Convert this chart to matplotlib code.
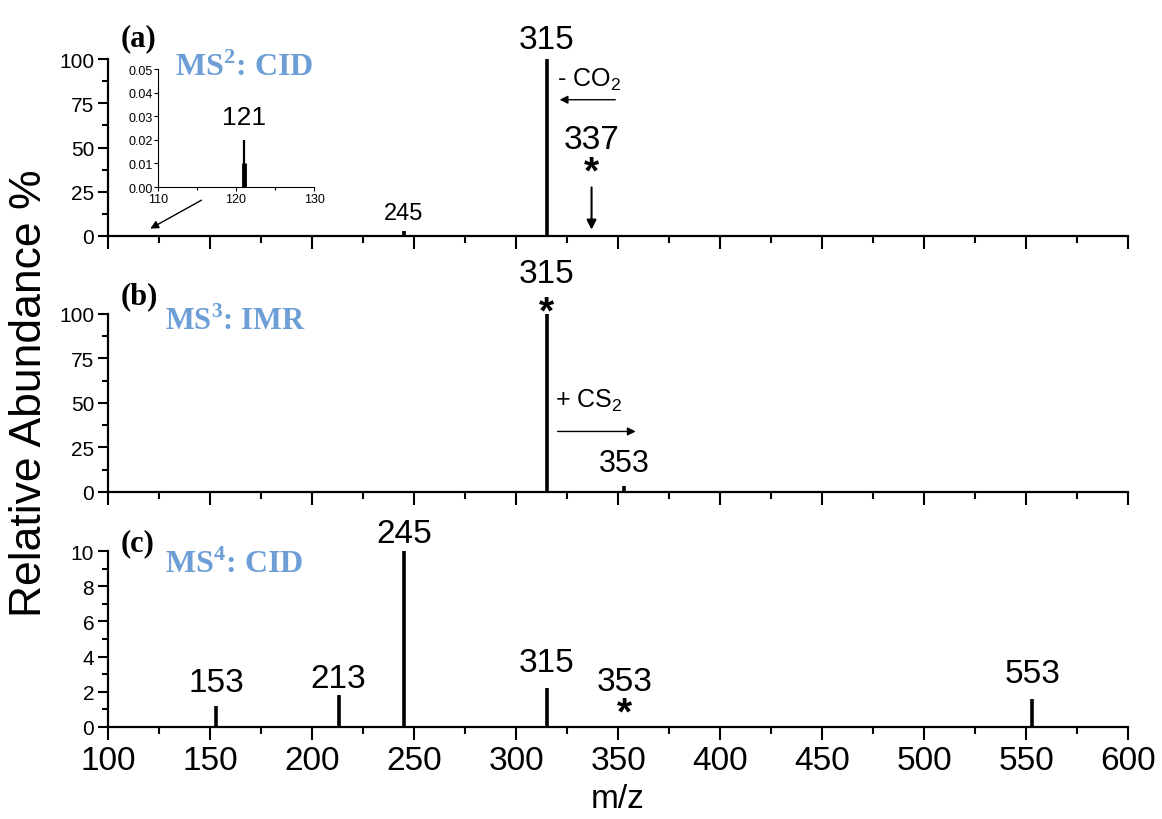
import numpy as np
import matplotlib.pyplot as plt
from matplotlib.ticker import MultipleLocator

plt.rcParams['font.family'] = ['Liberation Sans', 'DejaVu Sans']
plt.rcParams['mathtext.fontset'] = 'custom'
plt.rcParams['mathtext.rm'] = 'Liberation Sans'
plt.rcParams['mathtext.it'] = 'Liberation Sans:italic'
plt.rcParams['mathtext.bf'] = 'Liberation Serif:bold'

# datos de los espectros (m/z, abundancia relativa %)
mz_a = [121, 245, 315]
int_a = [0.02, 3.0, 100.0]
mz_b = [315, 353]
int_b = [100.0, 3.5]
mz_c = [153, 213, 245, 315, 553]
int_c = [1.2, 1.8, 10.0, 2.2, 1.6]
off_c = [0.85, 0.5, 0.5, 1.0, 0.95]  # separacion etiqueta-pico

# inset: pico 121 ampliado
mz_in = [121, 121]
int_in = [0.02, 0.01]
w_in = [1.6, 3.5]

blue = '#6d9fd6'
serif = ['Liberation Serif', 'DejaVu Serif']

fig = plt.figure(figsize=(11.62, 8.2), dpi=100)
L, W = 0.093, 0.8778
ax_a = fig.add_axes([L, 0.7110, W, 0.2158])
ax_b = fig.add_axes([L, 0.3988, W, 0.2171])
ax_c = fig.add_axes([L, 0.1122, W, 0.2146])


def estilo(ax, ymax, ymaj, ymin, xlabels):
    ax.set_xlim(100, 600)
    ax.set_ylim(0, ymax)
    for s in ['top', 'right']:
        ax.spines[s].set_visible(False)
    for s in ['left', 'bottom']:
        ax.spines[s].set_linewidth(1.6)
    ax.xaxis.set_major_locator(MultipleLocator(50))
    ax.xaxis.set_minor_locator(MultipleLocator(25))
    ax.yaxis.set_major_locator(MultipleLocator(ymaj))
    ax.yaxis.set_minor_locator(MultipleLocator(ymin))
    ax.tick_params(axis='x', which='major', direction='out', length=9, width=1.5,
                   labelsize=24, labelbottom=xlabels, pad=4)
    ax.tick_params(axis='x', which='minor', direction='out', length=5, width=1.5)
    ax.tick_params(axis='y', which='major', direction='out', length=7, width=1.5,
                   labelsize=15, pad=3)
    ax.tick_params(axis='y', which='minor', direction='out', length=4, width=1.5)


estilo(ax_a, 100, 25, 12.5, False)
estilo(ax_b, 100, 25, 12.5, False)
estilo(ax_c, 10, 2, 1, True)

# (a) MS2: CID
ax_a.vlines(mz_a, 0, int_a, colors='black', lw=2.6)
ax_a.text(315, 106, '315', ha='center', va='baseline', fontsize=24)
ax_a.text(245, 9.6, '245', ha='center', va='baseline', fontsize=17)
ax_a.text(320, 89, '- CO$_2$', ha='left', va='center', fontsize=18)
ax_a.annotate('', xy=(320, 77), xytext=(350, 77),
              arrowprops=dict(arrowstyle='-|>', lw=1, color='black', mutation_scale=12))
ax_a.text(337, 50, '337', ha='center', va='baseline', fontsize=24)
ax_a.text(337, 36, '*', ha='center', va='center', fontsize=28, fontweight='bold')
ax_a.annotate('', xy=(337, 2), xytext=(337, 29),
              arrowprops=dict(arrowstyle='-|>', lw=1.5, color='black', mutation_scale=14))
ax_a.annotate('', xy=(119.5, 3.4), xytext=(147, 21),
              arrowprops=dict(arrowstyle='-|>', lw=1, color='black', mutation_scale=12))
ax_a.text(0.012, 1.12, '(a)', transform=ax_a.transAxes, fontsize=22,
          fontweight='bold', family=serif, ha='left', va='center')
ax_a.text(0.066, 0.955, 'MS$^{\\mathbf{2}}$: CID', transform=ax_a.transAxes, fontsize=23,
          fontweight='bold', family=serif, color=blue, ha='left', va='center')

# inset (fondo transparente para que se vea el texto MS2)
ax_in = fig.add_axes([0.136, 0.7707, 0.1343, 0.1439])
ax_in.patch.set_alpha(0)
ax_in.vlines(mz_in, 0, int_in, colors='black', lw=w_in)
ax_in.set_xlim(110, 130)
ax_in.set_ylim(0, 0.05)
for s in ['top', 'right']:
    ax_in.spines[s].set_visible(False)
ax_in.xaxis.set_major_locator(MultipleLocator(10))
ax_in.xaxis.set_minor_locator(MultipleLocator(5))
ax_in.set_yticks([0, 0.01, 0.02, 0.03, 0.04, 0.05])
ax_in.set_yticklabels(['0.00', '0.01', '0.02', '0.03', '0.04', '0.05'])
ax_in.tick_params(which='both', direction='out', labelsize=9, width=0.8, pad=1)
ax_in.tick_params(which='major', length=3)
ax_in.tick_params(which='minor', length=2)
ax_in.text(121, 0.0265, '121', ha='center', va='baseline', fontsize=19)

# (b) MS3: IMR
ax_b.vlines(mz_b, 0, int_b, colors='black', lw=2.6)
ax_b.text(315, 118, '315', ha='center', va='baseline', fontsize=24)
ax_b.text(315, 101, '*', ha='center', va='center', fontsize=28, fontweight='bold')
ax_b.text(319, 52, '+ CS$_2$', ha='left', va='center', fontsize=18)
ax_b.annotate('', xy=(360, 34), xytext=(319, 34),
              arrowprops=dict(arrowstyle='-|>', lw=1, color='black', mutation_scale=12))
ax_b.text(353, 11.8, '353', ha='center', va='baseline', fontsize=22)
ax_b.text(0.012, 1.10, '(b)', transform=ax_b.transAxes, fontsize=22,
          fontweight='bold', family=serif, ha='left', va='center')
ax_b.text(0.056, 0.96, 'MS$^{\\mathbf{3}}$: IMR', transform=ax_b.transAxes, fontsize=22,
          fontweight='bold', family=serif, color=blue, ha='left', va='center')

# (c) MS4: CID
ax_c.vlines(mz_c, 0, int_c, colors='black', lw=2.6)
for m, v, o in zip(mz_c, int_c, off_c):
    ax_c.text(m, v + o, str(m), ha='center', va='baseline', fontsize=24)
ax_c.text(353, 2.1, '353', ha='center', va='baseline', fontsize=24)
ax_c.text(353, 0.75, '*', ha='center', va='center', fontsize=28, fontweight='bold')
ax_c.text(0.012, 1.05, '(c)', transform=ax_c.transAxes, fontsize=22,
          fontweight='bold', family=serif, ha='left', va='center')
ax_c.text(0.056, 0.926, 'MS$^{\\mathbf{4}}$: CID', transform=ax_c.transAxes, fontsize=23,
          fontweight='bold', family=serif, color=blue, ha='left', va='center')
ax_c.set_xlabel('m/z', fontsize=24, labelpad=5)

fig.text(0.025, 0.52, 'Relative Abundance %', rotation=90, fontsize=32,
         ha='center', va='center')

fig.savefig('out.png', dpi=100)
